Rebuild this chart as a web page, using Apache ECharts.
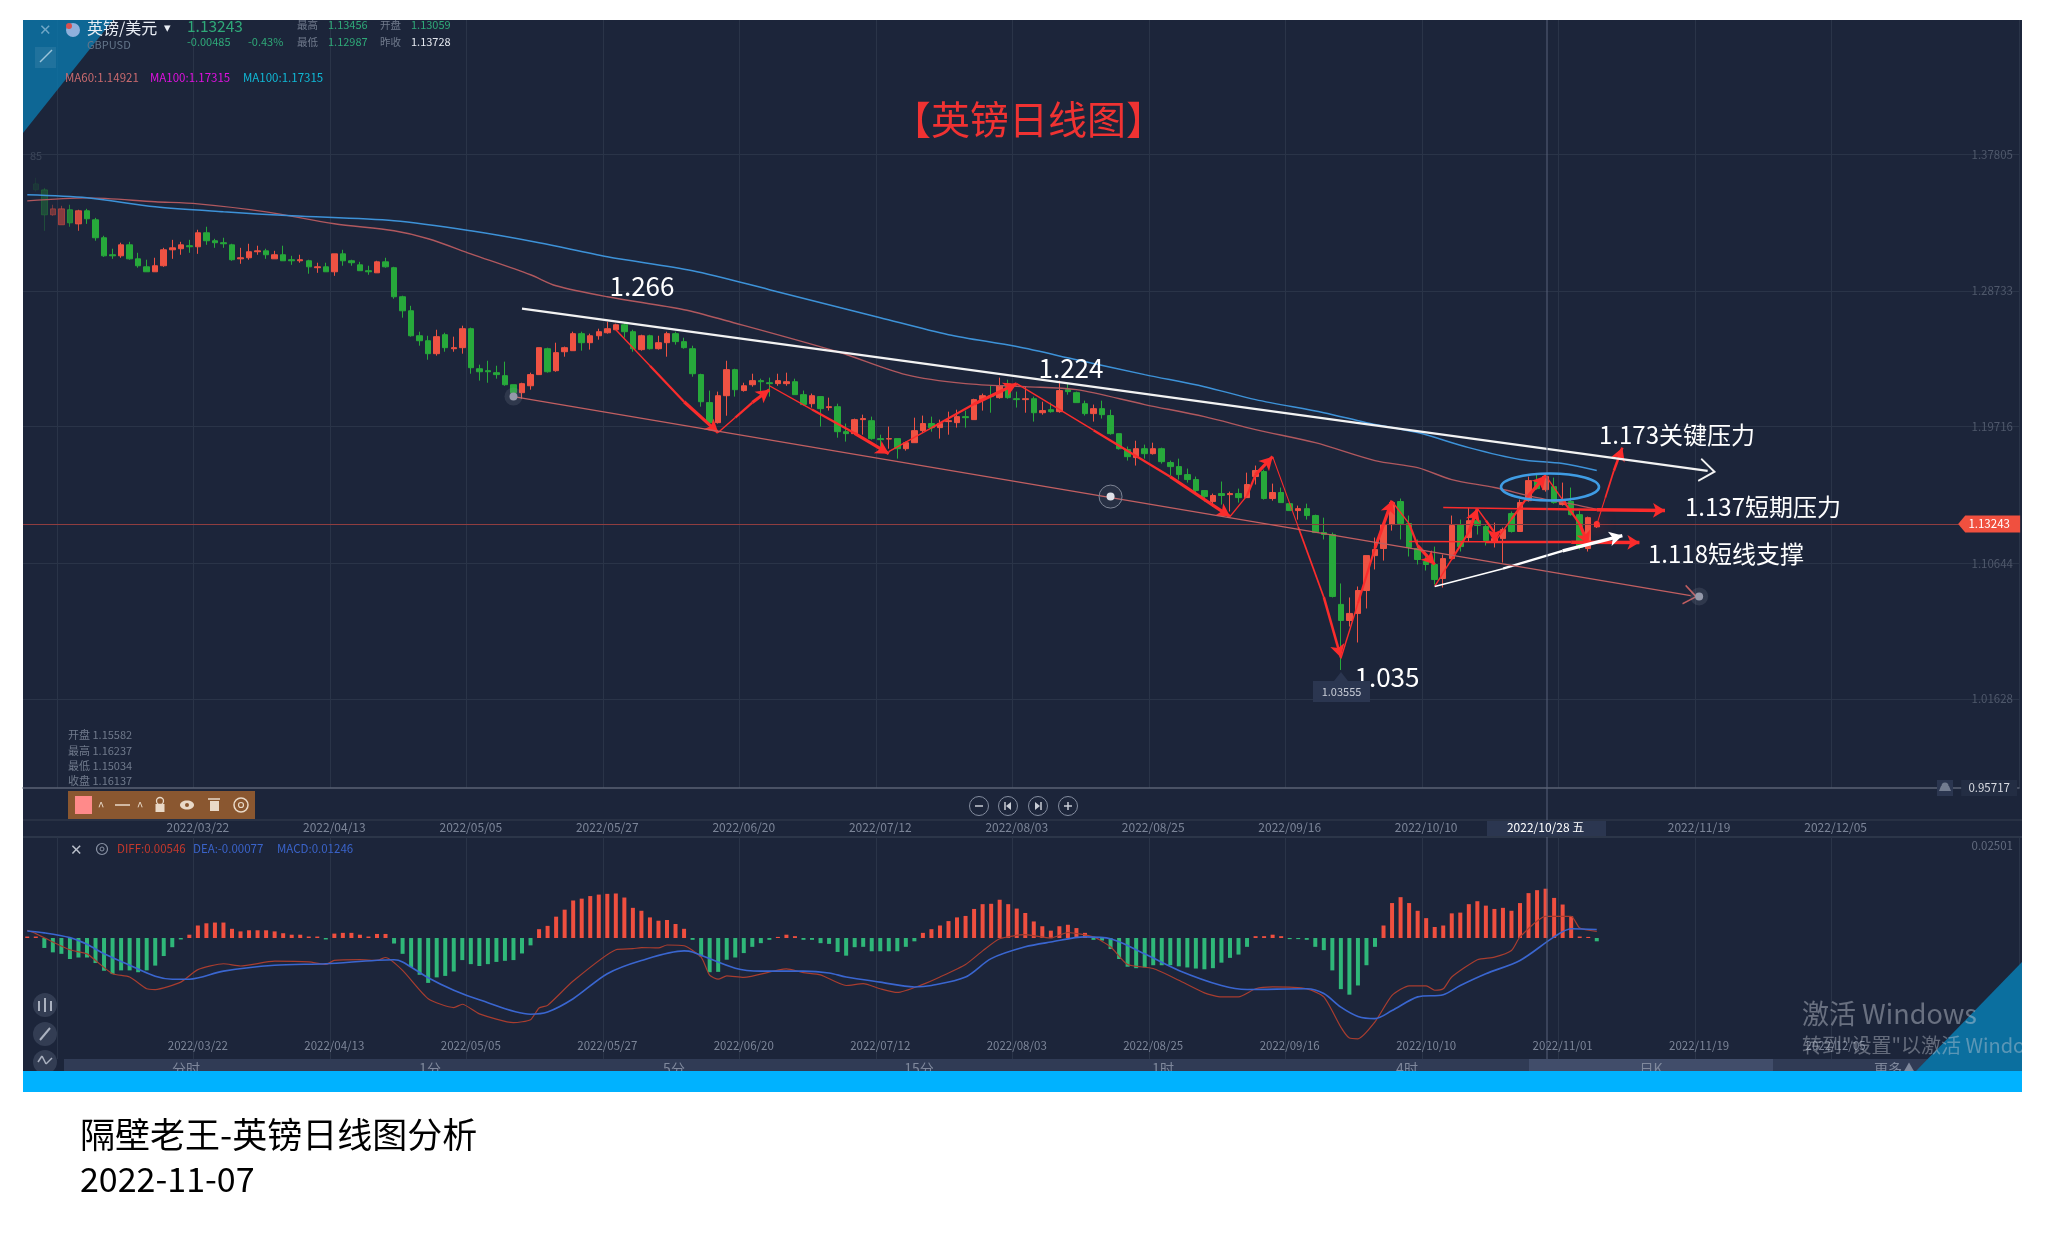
<!DOCTYPE html>
<html><head><meta charset="utf-8"><title>英镑日线图</title>
<style>html,body{margin:0;padding:0;background:#fff}#c{width:2045px;height:1256px}</style>
<script src="https://cdn.jsdelivr.net/npm/echarts@6/dist/echarts.min.js"></script></head>
<body><div id="c"></div>
<script>
// ---------- data (first candle is slot 1) ----------
const highs=[1.3624,1.3557,1.3445,1.3438,1.3445,1.3412,1.3418,1.3358,1.3239,1.3153,1.3193,1.3199,1.3126,1.3080,1.3093,1.3159,1.3212,1.3199,1.3212,1.3279,1.3299,1.3219,1.3226,1.3186,1.3159,1.3186,1.3173,1.3153,1.3139,1.3173,1.3106,1.3113,1.3080,1.3060,1.3060,1.3119,1.3146,1.3080,1.3066,1.3040,1.3073,1.3093,1.3033,1.2841,1.2774,1.2602,1.2575,1.2615,1.2595,1.2569,1.2642,1.2629,1.2383,1.2409,1.2376,1.2403,1.2250,1.2263,1.2330,1.2496,1.2496,1.2529,1.2503,1.2602,1.2602,1.2589,1.2622,1.2668,1.2655,1.2662,1.2615,1.2582,1.2582,1.2575,1.2602,1.2602,1.2562,1.2509,1.2323,1.2211,1.2204,1.2409,1.2356,1.2263,1.2323,1.2290,1.2297,1.2323,1.2330,1.2290,1.2211,1.2191,1.2171,1.2164,1.2124,1.1992,1.2025,1.2051,1.2038,1.1918,1.1972,1.1892,1.1872,1.2031,1.2045,1.2038,1.2018,1.2071,1.2084,1.2078,1.2157,1.2191,1.2243,1.2297,1.2283,1.2204,1.2237,1.2171,1.2137,1.2131,1.2277,1.2257,1.2204,1.2144,1.2118,1.2144,1.2084,1.1925,1.1839,1.1878,1.1852,1.1865,1.1832,1.1746,1.1759,1.1693,1.1640,1.1547,1.1527,1.1607,1.1540,1.1560,1.1666,1.1713,1.1686,1.1593,1.1567,1.1467,1.1447,1.1460,1.1387,1.1367,1.1268,1.0930,1.0837,1.0910,1.1115,1.1235,1.1321,1.1474,1.1494,1.1381,1.1222,1.1109,1.1175,1.1122,1.1381,1.1354,1.1434,1.1427,1.1321,1.1334,1.1301,1.1408,1.1487,1.1640,1.1653,1.1653,1.1633,1.1600,1.1567,1.1414,1.1374,1.13456];
const bodyTop=[1.3584,1.3544,1.3418,1.3418,1.3412,1.3405,1.3405,1.3345,1.3226,1.3113,1.3179,1.3179,1.3086,1.3033,1.3040,1.3146,1.3159,1.3179,1.3173,1.3259,1.3259,1.3206,1.3193,1.3179,1.3093,1.3133,1.3139,1.3139,1.3113,1.3113,1.3080,1.3080,1.3073,1.3033,1.3033,1.3119,1.3119,1.3073,1.3046,1.3007,1.3066,1.3066,1.3027,1.2834,1.2741,1.2575,1.2542,1.2569,1.2582,1.2496,1.2622,1.2622,1.2356,1.2343,1.2330,1.2310,1.2250,1.2257,1.2317,1.2496,1.2489,1.2463,1.2496,1.2589,1.2589,1.2575,1.2602,1.2622,1.2648,1.2648,1.2602,1.2575,1.2575,1.2529,1.2589,1.2589,1.2536,1.2489,1.2317,1.2131,1.2177,1.2350,1.2350,1.2243,1.2277,1.2277,1.2263,1.2277,1.2270,1.2270,1.2184,1.2177,1.2171,1.2104,1.2104,1.1938,1.2018,1.2025,1.2011,1.1892,1.1892,1.1892,1.1865,1.1945,1.1992,1.1992,1.1992,1.2011,1.2038,1.2038,1.2151,1.2177,1.2177,1.2243,1.2257,1.2157,1.2157,1.2157,1.2078,1.2084,1.2211,1.2217,1.2197,1.2124,1.2091,1.2091,1.2045,1.1925,1.1819,1.1825,1.1825,1.1825,1.1825,1.1733,1.1706,1.1653,1.1620,1.1547,1.1514,1.1527,1.1527,1.1527,1.1587,1.1680,1.1673,1.1534,1.1534,1.1460,1.1427,1.1427,1.1381,1.1268,1.1255,1.0791,1.0731,1.0883,1.1115,1.1155,1.1321,1.1467,1.1474,1.1328,1.1162,1.1076,1.1056,1.1095,1.1315,1.1321,1.1347,1.1347,1.1308,1.1228,1.1288,1.1394,1.1467,1.1613,1.1613,1.1640,1.1573,1.1474,1.1474,1.1387,1.1367,1.13243];
const bodyBottom=[1.3544,1.3378,1.3378,1.3312,1.3325,1.3318,1.3352,1.3226,1.3106,1.3106,1.3106,1.3086,1.3040,1.3000,1.3000,1.3040,1.3146,1.3153,1.3166,1.3166,1.3206,1.3193,1.3186,1.3080,1.3086,1.3093,1.3133,1.3113,1.3086,1.3073,1.3073,1.3073,1.3033,1.3027,1.3000,1.3000,1.3073,1.3060,1.3007,1.3000,1.2993,1.3033,1.2834,1.2741,1.2575,1.2542,1.2456,1.2456,1.2496,1.2489,1.2496,1.2363,1.2336,1.2336,1.2317,1.2250,1.2197,1.2197,1.2243,1.2317,1.2336,1.2343,1.2469,1.2476,1.2529,1.2529,1.2575,1.2595,1.2615,1.2602,1.2489,1.2483,1.2489,1.2489,1.2529,1.2536,1.2496,1.2323,1.2137,1.1998,1.1998,1.2177,1.2217,1.2211,1.2250,1.2270,1.2257,1.2257,1.2257,1.2184,1.2118,1.2124,1.2091,1.2098,1.1938,1.1925,1.1925,1.2018,1.1892,1.1885,1.1889,1.1825,1.1825,1.1865,1.1945,1.1965,1.1965,1.2005,1.1998,1.2031,1.2018,1.2151,1.2171,1.2164,1.2164,1.2151,1.2151,1.2064,1.2064,1.2071,1.2071,1.2204,1.2131,1.2058,1.2058,1.2051,1.1925,1.1825,1.1772,1.1766,1.1792,1.1792,1.1739,1.1706,1.1653,1.1620,1.1547,1.1507,1.1474,1.1514,1.1520,1.1500,1.1500,1.1640,1.1494,1.1494,1.1467,1.1414,1.1414,1.1381,1.1268,1.1255,1.0844,1.0684,1.0684,1.0731,1.0883,1.1115,1.1162,1.1321,1.1328,1.1169,1.1089,1.1056,1.0956,1.0963,1.1095,1.1175,1.1235,1.1315,1.1215,1.1209,1.1228,1.1275,1.1275,1.1480,1.1560,1.1553,1.1467,1.1454,1.1387,1.1169,1.1162,1.13059];
const lows=[1.3531,1.3272,1.3372,1.3312,1.3299,1.3272,1.3318,1.3206,1.3099,1.3086,1.3093,1.3080,1.3027,1.3000,1.3000,1.3033,1.3086,1.3113,1.3126,1.3119,1.3179,1.3159,1.3159,1.3073,1.3053,1.3080,1.3113,1.3086,1.3086,1.3073,1.3046,1.3060,1.2987,1.2993,1.3000,1.2973,1.3040,1.3040,1.3007,1.2980,1.2993,1.3027,1.2821,1.2695,1.2569,1.2509,1.2416,1.2443,1.2469,1.2469,1.2456,1.2323,1.2277,1.2263,1.2290,1.2243,1.2190,1.2157,1.2217,1.2317,1.2330,1.2336,1.2436,1.2476,1.2476,1.2483,1.2549,1.2589,1.2615,1.2562,1.2469,1.2476,1.2483,1.2483,1.2436,1.2516,1.2489,1.2303,1.2104,1.1985,1.1992,1.2044,1.2171,1.2204,1.2237,1.2204,1.2171,1.2243,1.2243,1.2184,1.2111,1.2098,1.1972,1.2078,1.1898,1.1872,1.1918,1.1918,1.1885,1.1805,1.1825,1.1759,1.1812,1.1865,1.1932,1.1938,1.1892,1.1918,1.1965,1.1965,1.2018,1.2078,1.2064,1.2157,1.2157,1.2098,1.2064,1.2005,1.2051,1.2064,1.2064,1.2184,1.2131,1.2045,1.2005,1.2025,1.1918,1.1819,1.1746,1.1713,1.1759,1.1786,1.1726,1.1646,1.1620,1.1600,1.1527,1.1474,1.1441,1.1454,1.1408,1.1467,1.1500,1.1587,1.1487,1.1480,1.1467,1.1414,1.1354,1.1354,1.1268,1.1222,1.0837,1.03555,1.0644,1.0538,1.0764,1.1023,1.1082,1.1281,1.1222,1.1109,1.1056,1.1016,1.0923,1.0903,1.1095,1.1142,1.1209,1.1255,1.1182,1.1169,1.1069,1.1268,1.1275,1.1474,1.1553,1.1540,1.1460,1.1447,1.1381,1.1155,1.1142,1.12987];
const isUp=[0,0,1,1,0,1,0,0,0,0,1,0,0,0,1,1,1,1,0,1,0,0,0,0,1,1,1,0,1,0,0,1,0,1,0,1,0,0,0,0,1,0,0,0,0,0,0,1,0,1,1,0,0,0,0,0,0,1,1,1,0,1,1,1,0,1,1,1,1,0,0,1,0,1,1,0,0,0,0,0,1,1,0,1,1,0,0,1,1,0,0,1,0,1,0,0,1,1,0,0,1,0,1,1,1,0,1,1,1,0,1,1,0,1,0,0,1,0,1,0,1,0,0,0,1,0,0,0,0,1,0,1,0,0,0,0,0,0,1,0,1,0,1,1,0,1,0,0,1,0,0,0,0,0,1,1,1,1,1,1,0,0,0,0,0,1,1,0,1,0,0,1,1,0,1,1,0,1,0,1,0,0,1,1];
const firstCandleSlot=1, slotCount=234;
const macdHist=[.0004,.0004,-.0027,-.0039,-.0043,-.0057,-.0053,-.0053,-.0068,-.0089,-.0098,-.0088,-.0088,-.0093,-.0088,-.0075,-.0049,-.0025,-.0004,.0009,.0034,.0040,.0042,.0042,.0025,.0018,.0021,.0021,.0021,.0018,.0013,.0009,.0009,.0004,.0004,-.0004,.0012,.0014,.0014,.0009,.0004,.0011,.0011,-.0015,-.0043,-.0079,-.0100,-.0122,-.0107,-.0103,-.0091,-.0060,-.0071,-.0076,-.0071,-.0065,-.0062,-.0060,-.0042,-.0020,.0024,.0033,.0058,.0077,.0102,.0107,.0114,.0118,.0120,.0121,.0110,.0082,.0074,.0056,.0047,.0049,.0038,.0025,-.0005,-.0050,-.0093,-.0092,-.0059,-.0053,-.0041,-.0024,-.0014,-.0005,.0003,.0009,.0005,-.0005,-.0005,-.0014,-.0016,-.0038,-.0048,-.0025,-.0024,-.0036,-.0036,-.0036,-.0036,-.0024,-.0009,.0014,.0024,.0034,.0046,.0056,.0060,.0079,.0092,.0093,.0104,.0092,.0080,.0068,.0045,.0032,.0020,.0032,.0036,.0027,.0014,-.0005,-.0007,-.0030,-.0057,-.0078,-.0082,-.0080,-.0074,-.0074,-.0074,-.0077,-.0080,-.0083,-.0085,-.0082,-.0067,-.0054,-.0045,-.0024,.0005,.0005,.0009,.0005,-.0003,-.0003,-.0005,-.0024,-.0033,-.0088,-.0139,-.0154,-.0129,-.0074,-.0024,.0034,.0095,.0111,.0095,.0074,.0054,.0030,.0034,.0067,.0069,.0092,.0100,.0088,.0079,.0082,.0074,.0095,.0122,.0130,.0134,.0109,.0091,.0059,.0004,.0003,-.0009];
const diffPts=[[0,.0021],[1,.0012],[3,-.0011],[5,-.0032],[7,-.0043],[8,-.0061],[10,-.0097],[12,-.0106],[14,-.0138],[15,-.0140],[18,-.0120],[20,-.0086],[23,-.0070],[25,-.0076],[29,-.0063],[33,-.0065],[35,-.0072],[36,-.0061],[39,-.0059],[41,-.0061],[42,-.0053],[44,-.0088],[47,-.0165],[50,-.0189],[51,-.0180],[53,-.0206],[57,-.0230],[59,-.0222],[60,-.0190],[61,-.0183],[64,-.0117],[69,-.0032],[71,-.0029],[72,-.0026],[74,-.0027],[75,-.0019],[77,-.0021],[79,-.0052],[80,-.0101],[81,-.0112],[82,-.0103],[84,-.0107],[89,-.0084],[91,-.0094],[93,-.0100],[96,-.0129],[98,-.0124],[100,-.0138],[102,-.0148],[105,-.0126],[107,-.0106],[110,-.0072],[112,-.0035],[114,-.0002],[117,.0009],[120,0],[122,.0015],[125,.0003],[127,-.0024],[129,-.0072],[132,-.0083],[135,-.0115],[138,-.0149],[140,-.0160],[142,-.0160],[144,-.0138],[146,-.0133],[150,-.0138],[152,-.0160],[154,-.0242],[155,-.0272],[156,-.0274],[158,-.0228],[160,-.0156],[162,-.0130],[164,-.0130],[165,-.0142],[166,-.0138],[167,-.0106],[170,-.0059],[172,-.0052],[174,-.0034],[175,.0003],[178,.0059],[181,.0059],[182,.0027],[184,.0018]];
const deaPts=[[0,.0019],[2,.0014],[5,.0001],[7,-.0017],[9,-.0043],[12,-.0074],[15,-.0104],[17,-.0112],[19,-.0112],[23,-.0090],[29,-.0074],[35,-.0070],[43,-.0059],[44,-.0065],[47,-.0108],[50,-.0142],[53,-.0168],[59,-.0207],[61,-.0201],[64,-.0165],[68,-.0097],[72,-.0061],[77,-.0035],[78,-.0038],[83,-.0082],[86,-.0090],[91,-.0090],[94,-.0095],[96,-.0106],[100,-.0120],[104,-.0133],[106,-.0129],[110,-.0106],[113,-.0056],[117,-.0024],[120,-.0011],[124,.0003],[127,-.0002],[131,-.0043],[135,-.0088],[140,-.0129],[143,-.0140],[150,-.0138],[152,-.0151],[154,-.0188],[156,-.0213],[158,-.0219],[160,-.0197],[163,-.0160],[166,-.0154],[168,-.0129],[171,-.0097],[175,-.0061],[179,.0003],[181,.0025],[184,.0023]];
const ma100Pts=[[0,1.3511],[7,1.3491],[15,1.3431],[23,1.3398],[31,1.3372],[43,1.3339],[52,1.3272],[60,1.3193],[68,1.3100],[78,1.3007],[87,1.2881],[100,1.2695],[108,1.2582],[116,1.2503],[123,1.2416],[131,1.2317],[138,1.2237],[144,1.2151],[152,1.2064],[157,1.1998],[163,1.1932],[169,1.1832],[175,1.1753],[180,1.1726],[184,1.1680]];
const ma60Pts=[[0,1.3471],[7,1.3491],[15,1.3465],[20,1.3451],[28,1.3398],[36,1.3319],[43,1.3272],[47,1.3219],[52,1.3119],[59,1.2980],[62,1.2907],[68,1.2834],[77,1.2748],[82,1.2675],[95,1.2469],[103,1.2317],[110,1.2257],[117,1.2237],[123,1.2217],[131,1.2118],[138,1.2038],[144,1.1952],[151,1.1865],[158,1.1746],[163,1.1699],[167,1.1620],[172,1.1567],[177,1.1500],[182,1.1447],[184,1.1421]];
const priceTicks=[1.37805,1.28733,1.19716,1.10644,1.01628];
const macdTicks=[0.02501,-0.02501];
const lastPrice=1.13243, bottomPrice=0.95717;
const upperTickSlots=[20,36,52,68,84,100,116,132,148,164,178,196,212];
const upperTickLabels=['2022/03/22','2022/04/13','2022/05/05','2022/05/27','2022/06/20','2022/07/12','2022/08/03','2022/08/25','2022/09/16','2022/10/10','2022/10/28 五','2022/11/19','2022/12/05'];
const lowerTickSlots=[20,36,52,68,84,100,116,132,148,164,180,196,212];
const lowerTickLabels=['2022/03/22','2022/04/13','2022/05/05','2022/05/27','2022/06/20','2022/07/12','2022/08/03','2022/08/25','2022/09/16','2022/10/10','2022/11/01','2022/11/19','2022/12/05'];
const gridSlots=[4,20,36,52,68,84,100,116,132,148,164,180,196,212];
const redArrows=[[69,1.2615,80.6,1.1932],[80.9,1.1932,87.1,1.2217],[87.4,1.2243,100.6,1.1792],[100.9,1.1805,115.8,1.2257],[116,1.2257,141,1.1374],[141.2,1.1374,145.6,1.1772],[145.8,1.1772,154.2,1.0439],[154.2,1.0432,160.1,1.1480],[160.1,1.1474,164.7,1.1056],[165.3,1.0910,170,1.1427],[170,1.1427,172.4,1.1202],[172.4,1.1202,177.9,1.1646],[178.4,1.1646,182.9,1.1188],[183.7,1.1321,187.4,1.1832]];
const levelArrows=[[165.5,1.1434,191.8,1.1414],[161.8,1.1209,189.4,1.1202]];
const supportArrow=[164.8,1.0910,187.2,1.1248];
const resistanceLine=[58.1,1.2755,197.3,1.1678];
const channelLine=[57.2,1.2171,195.4,1.0849];
const channelHandles=[[57.2,1.2171],[196.1,1.0844]];
const midHandle=[126.6,1.1507];

// ---------- options ----------
const cats=[]; for(let i=0;i<slotCount;i++) cats.push(String(i));
const RED='#ef5243',GREEN='#27a93b',BG='#1c253a',FONT='"Noto Sans CJK SC","Noto Sans",sans-serif';
const dim={1:.12,2:.3,3:.4,4:.5,5:.7,6:.85};
const candleData=[{value:['-','-','-','-']}].concat(highs.map((h,i)=>{
  const up=isUp[i], o=up?bodyBottom[i]:bodyTop[i], c=up?bodyTop[i]:bodyBottom[i], k=i+firstCandleSlot;
  const item={value:[o,c,lows[i],h]};
  if(dim[k]) item.itemStyle={opacity:dim[k]};
  return item;
}));
const seg=(a,color,width,sym,size)=>[
  {coord:[a[0],a[1]],symbol:'none',lineStyle:{color,width,type:'solid',opacity:1}},
  {coord:[a[2],a[3]],symbol:sym,symbolSize:size,itemStyle:{color}}];
// the drawn arrows start thin and get thicker towards the head
const tapered=(a,color,w,size)=>{
  const at=t=>[a[0]+(a[2]-a[0])*t,a[1]+(a[3]-a[1])*t];
  const p1=at(.35),p2=at(.7);
  return [
    seg([a[0],a[1],p1[0],p1[1]],color,w*.5,'none',0),
    seg([p1[0],p1[1],p2[0],p2[1]],color,w*.8,'none',0),
    seg([p2[0],p2[1],a[2],a[3]],color,w*1.15,'arrow',size)];
};
const chevron='path://M10 0L20 17L18.6 18L10 3.5L1.4 18L0 17Z';
const annLines=[
  ...redArrows.flatMap((a,i)=>tapered(a,'#fb2c2c',i==6||i==13?2.2:2.8,[11,13])),
  ...levelArrows.flatMap(a=>tapered(a,'#fb2c2c',3,[11,12])),
  ...tapered(supportArrow,'#ffffff',3,[11,13]),
  seg(resistanceLine,'#f2f2f2',2.2,chevron,[24,17]),
  seg(channelLine,'#c25f61',1.4,chevron,[20,14])
];
const ann={type:'line',xAxisIndex:0,yAxisIndex:0,data:[],z:6,silent:true,animation:false,
  markLine:{silent:true,animation:false,precision:5,label:{show:false},data:annLines},
  markPoint:{silent:true,animation:false,label:{show:false},data:[
    ...channelHandles.map(p=>({coord:p,symbol:'circle',symbolSize:18,itemStyle:{color:'rgba(150,155,175,.16)'}})),
    ...channelHandles.map(p=>({coord:p,symbol:'circle',symbolSize:8,itemStyle:{color:'#9499aa'}})),
    {coord:midHandle,symbol:'circle',symbolSize:23,itemStyle:{color:'rgba(255,255,255,.05)',borderColor:'#7d8494',borderWidth:1}},
    {coord:midHandle,symbol:'circle',symbolSize:8,itemStyle:{color:'#dfe1e8'}},
    {coord:[184,lastPrice],symbol:'circle',symbolSize:6,itemStyle:{color:'#ff3030',shadowBlur:16,shadowColor:'#ff2020'}}
  ]}};
const isTick=s=>(idx)=>s.includes(idx);
const rt=(w,h,x,y,color,o)=>({type:'rect',shape:{x,y,width:w,height:h},style:Object.assign({fill:color},o||{})});
const T=(x,y,text,size,color,align,o)=>({type:'text',x,y,style:Object.assign({text,fontSize:size,fill:color,align:align||'left',verticalAlign:'middle',fontFamily:FONT},o||{})});
const ln=(x1,y1,x2,y2,color,w)=>({type:'line',shape:{x1,y1,x2,y2},style:{stroke:color,lineWidth:w||1}});
const C=(cx,cy,r,style)=>({type:'circle',shape:{cx,cy,r},style});
const P=(points,fill)=>({type:'polygon',shape:{points},style:{fill}});
const under=[
  rt(1999,1052,23,20,BG),
  rt(1954,13,64,1059,'#303b55'),
  rt(244,13,1529,1059,'#414d6a'),
  ln(23,820,2022,820,'#2c3649',1.5),ln(23,837,2022,837,'#2c3649',2),
  rt(119,15,1487,821,'#2b3650')
].map(e=>Object.assign(e,{z:-5,silent:true}));
const tabs=[['分时',186],['1分',430],['5分',674],['15分',919],['1时',1163],['4时',1407],['日K',1651],['更多▲',1895]];
const ICON='#e9d9c8';
const over=[
  ln(1547,20,1547,820,'#59627a',1),ln(1547,837,1547,1059,'#59627a',1),
  ...tabs.map(t=>T(t[1],1069,t[0],14,'#7f889c','center')),
  // side buttons sit under the blue band
  C(45,1005,12,{fill:'#333d53'}),C(45,1034,12,{fill:'#333d53'}),C(45,1062,12,{fill:'#333d53'}),
  rt(2,10,38,1001,'#aab1bf'),rt(2,14,44,998,'#aab1bf'),rt(2,10,50,1001,'#aab1bf'),ln(40,1040,50,1028,'#aab1bf',2),
  ln(38,1062,42,1056,'#aab1bf',1.5),ln(42,1056,46,1064,'#aab1bf',1.5),ln(46,1064,52,1058,'#aab1bf',1.5),
  // band and page strip
  rt(1999,21,23,1071,'#00b2ff'),
  rt(2045,20,0,0,'#ffffff'),
  T(80,1135,'隔壁老王-英镑日线图分析',35,'#000000'),
  T(80,1179,'2022-11-07',34,'#000000'),
  // corner triangles
  Object.assign(P([[23,20],[113,20],[23,133]],'#0b78ad'),{}),
  P([[2022,962],[1916,1071],[2022,1071]],'#0b6f9f'),
  // header
  T(45,29,'✕',15,'#6fa6c6','center'),rt(21,21,35,47,'rgba(255,255,255,.08)'),ln(40,62,52,50,'#9cc4da',1.5),
  C(73,30,7,{fill:'#8fb0dc'}),C(69,26,3,{fill:'#d9504f'}),
  T(87,28,'英镑/美元',16,'#e9edf4'),T(164,27,'▾',13,'#e9edf4'),
  T(87,45,'GBPUSD',11,'#64768a'),
  T(187,26,'1.13243',15.5,'#2fa878'),
  T(187,42,'-0.00485',11,'#2fa878'),T(248,42,'-0.43%',11,'#2fa878'),
  T(297,25,'最高',10.5,'#707a8c'),T(328,25,'1.13456',11,'#2fa878'),T(380,25,'开盘',10.5,'#707a8c'),T(411,25,'1.13059',11,'#2fa878'),
  T(297,42,'最低',10.5,'#707a8c'),T(328,42,'1.12987',11,'#2fa878'),T(380,42,'昨收',10.5,'#707a8c'),T(411,42,'1.13728',11,'#e4e8ef'),
  T(65,78,'MA60:1.14921',11.5,'#c96a6e'),T(150,78,'MA100:1.17315',11.5,'#e010e0'),T(243,78,'MA100:1.17315',11.5,'#10b9d6'),
  T(30,156,'85',11,'#3b4558'),
  // annotations
  T(892,119,'【英镑日线图】',39,'#f03232'),
  T(642,286,'1.266',26,'#ffffff','center'),T(1071,368,'1.224',26,'#ffffff','center'),
  T(1599,435,'1.173关键压力',24,'#ffffff'),T(1685,507,'1.137短期压力',24,'#ffffff'),T(1648,554,'1.118短线支撑',24,'#ffffff'),
  T(1387,677,'1.035',26,'#ffffff','center'),
  {type:'ellipse',shape:{cx:1550,cy:487,rx:49,ry:13.5},style:{fill:'none',stroke:'#3f9ce4',lineWidth:2.6}},
  // low tag
  P([[1341,672],[1334,681],[1348,681]],'#2b3650'),
  rt(57,21,1313,681,'#2b3650'),T(1341.5,692,'1.03555',11,'#c8ccd6','center'),
  // OHLC
  T(68,735,'开盘 1.15582',11,'#707a8c'),T(68,751,'最高 1.16237',11,'#707a8c'),T(68,766,'最低 1.15034',11,'#707a8c'),T(68,781,'收盘 1.16137',11,'#707a8c'),
  // toolbar
  rt(187,28,68,791,'#8a5730'),rt(17,18,75,796,'#ff8a8a'),
  T(101,806,'^',12,ICON,'center'),ln(115,805,130,805,ICON,1.5),T(140,806,'^',12,ICON,'center'),
  C(160,801,3.5,{fill:'none',stroke:ICON,lineWidth:1.3}),rt(9,8,155.5,804,ICON),
  {type:'ellipse',shape:{cx:187,cy:805,rx:7,ry:4.5},style:{fill:ICON}},C(187,805,2,{fill:'#8a5730'}),
  rt(9,10,210,801,ICON),ln(208,799,220,799,ICON,1.5),
  C(241,805,7,{fill:'none',stroke:ICON,lineWidth:1.5}),C(241,805,2.5,{fill:'none',stroke:ICON,lineWidth:1.2}),
  // zoom buttons
  ...[979,1008,1038,1068].map(x=>C(x,806,9.5,{fill:'none',stroke:'#848d9f',lineWidth:1})),
  ln(975,806,983,806,'#c9cdd6',1.5),ln(1064,806,1072,806,'#c9cdd6',1.5),ln(1068,802,1068,810,'#c9cdd6',1.5),
  ln(1005,802,1005,810,'#c9cdd6',1.5),P([[1011,802],[1011,810],[1006,806]],'#c9cdd6'),
  ln(1041,802,1041,810,'#c9cdd6',1.5),P([[1035,802],[1035,810],[1040,806]],'#c9cdd6'),
  // bell
  rt(16,16,1937,780,'#2b3650'),C(1945,786,3.5,{fill:'#727c90'}),P([[1941,786],[1949,786],[1951,791],[1939,791]],'#727c90'),
  // macd header
  T(76,849,'✕',15,'#b9bfca','center'),
  C(102,849,5.5,{fill:'none',stroke:'#8a93a5',lineWidth:1.2}),C(102,849,2,{fill:'none',stroke:'#8a93a5',lineWidth:1}),
  T(117,849,'DIFF:0.00546',11.5,'#c4392d'),T(193,849,'DEA:-0.00077',11.5,'#3a63c9'),T(277,849,'MACD:0.01246',11.5,'#3a63c9'),
  // windows watermark
  T(1802,1014,'激活 Windows',27,'rgba(200,205,215,.45)'),
  T(1802,1045,'转到"设置"以激活 Windows。',20,'rgba(200,205,215,.42)')
].map(e=>Object.assign(e,{z:120,silent:true}));
// clip the watermark at the panel edge; the top-left triangle is translucent
over[over.findIndex(e=>e.type==='polygon'&&e.shape.points[0][1]===20)].style.opacity=.8;
over.push(Object.assign(rt(23,60,2022,1020,'#ffffff'),{z:121,silent:true}));
const upFmt=(v)=>{const i=upperTickSlots.indexOf(+v);return i<0?'':(i===10?'{hl|'+upperTickLabels[i]+'}':upperTickLabels[i]);};
const loFmt=(v)=>{const i=lowerTickSlots.indexOf(+v);return i<0?'':lowerTickLabels[i];};
const split={show:true,lineStyle:{color:'#2a3448',width:1}};
const option={
  animation:false,backgroundColor:'#ffffff',
  textStyle:{fontFamily:FONT},
  grid:[{left:23,top:20,width:1996,height:768},{left:23,top:837,width:1996,height:222}],
  xAxis:[
    {type:'category',gridIndex:0,data:cats,boundaryGap:true,
     axisLine:{show:true,lineStyle:{color:'#5a6274',width:1.5}},axisTick:{show:false},
     axisLabel:{show:true,interval:isTick(upperTickSlots),formatter:upFmt,margin:33,fontSize:12,color:'#7c8598',
       rich:{hl:{fontSize:12,color:'#ffffff'}}},
     splitLine:Object.assign({interval:isTick(gridSlots)},split)},
    {type:'category',gridIndex:1,data:cats,boundaryGap:true,
     axisLine:{show:false},axisTick:{show:false},
     axisLabel:{show:true,inside:true,interval:isTick(lowerTickSlots),formatter:loFmt,margin:8,fontSize:11.5,color:'#7c8598'},
     splitLine:Object.assign({interval:isTick(lowerTickSlots.concat([4]))},split)}
  ],
  yAxis:[
    {type:'value',gridIndex:0,position:'right',min:bottomPrice,max:1.4672,scale:true,
     axisLine:{show:false},axisTick:{show:false,customValues:priceTicks},
     axisLabel:{inside:true,margin:6,fontSize:11.5,color:'#4f586b',customValues:priceTicks,formatter:v=>v.toFixed(5)},
     splitLine:Object.assign({customValues:priceTicks},split)},
    {type:'value',gridIndex:1,position:'right',min:-0.03288,max:0.02745,scale:true,
     axisLine:{show:false},axisTick:{show:false,customValues:macdTicks},
     axisLabel:{inside:true,margin:6,fontSize:11.5,color:'#626b7e',customValues:macdTicks,formatter:v=>v.toFixed(5)},
     splitLine:{show:false}}
  ],
  series:[
    {type:'line',name:'MA60',xAxisIndex:0,yAxisIndex:0,data:ma60Pts,showSymbol:false,smooth:.3,z:3,lineStyle:{color:'#b0585e',width:1.4},silent:true},
    {type:'line',name:'MA100',xAxisIndex:0,yAxisIndex:0,data:ma100Pts,showSymbol:false,smooth:.3,z:3,lineStyle:{color:'#3d92d8',width:1.5},silent:true},
    {type:'candlestick',name:'GBPUSD',xAxisIndex:0,yAxisIndex:0,data:candleData,barWidth:6,z:2,silent:true,
     itemStyle:{color:RED,color0:GREEN,borderColor:RED,borderColor0:GREEN,borderWidth:1},
     markLine:{silent:true,animation:false,precision:5,symbol:'none',label:{show:false},
       lineStyle:{color:'#8f3d3f',width:1,type:'solid'},data:[{yAxis:lastPrice}]},
     markPoint:{silent:true,animation:false,data:[
       {coord:[230,lastPrice],symbol:'path://M0 10L8 0L70 0L70 20L8 20Z',symbolSize:[62,17],
        itemStyle:{color:'#f0503f'},label:{show:true,position:'inside',formatter:'1.13243',color:'#fff',fontSize:11.5}},
       {coord:[230,bottomPrice],symbol:'rect',symbolSize:[56,16],
        itemStyle:{color:'#232d43'},label:{show:true,position:'inside',formatter:'0.95717',color:'#d9dce3',fontSize:11.5}}
     ]}},
    ann,
    {type:'bar',name:'MACD',xAxisIndex:1,yAxisIndex:1,barWidth:4,z:2,silent:true,
     data:macdHist.map(v=>({value:v,itemStyle:{color:v>=0?'#ef4f3f':'#2fb779'}}))},
    {type:'line',name:'DIFF',xAxisIndex:1,yAxisIndex:1,data:diffPts,showSymbol:false,smooth:.2,z:3,lineStyle:{color:'#a83d2f',width:1.2},silent:true},
    {type:'line',name:'DEA',xAxisIndex:1,yAxisIndex:1,data:deaPts,showSymbol:false,smooth:.3,z:4,lineStyle:{color:'#3a66d0',width:1.6},silent:true}
  ],
  graphic:{elements:under.concat(over)}
};
echarts.init(document.getElementById('c'),null,{renderer:'canvas'}).setOption(option);
</script></body></html>
